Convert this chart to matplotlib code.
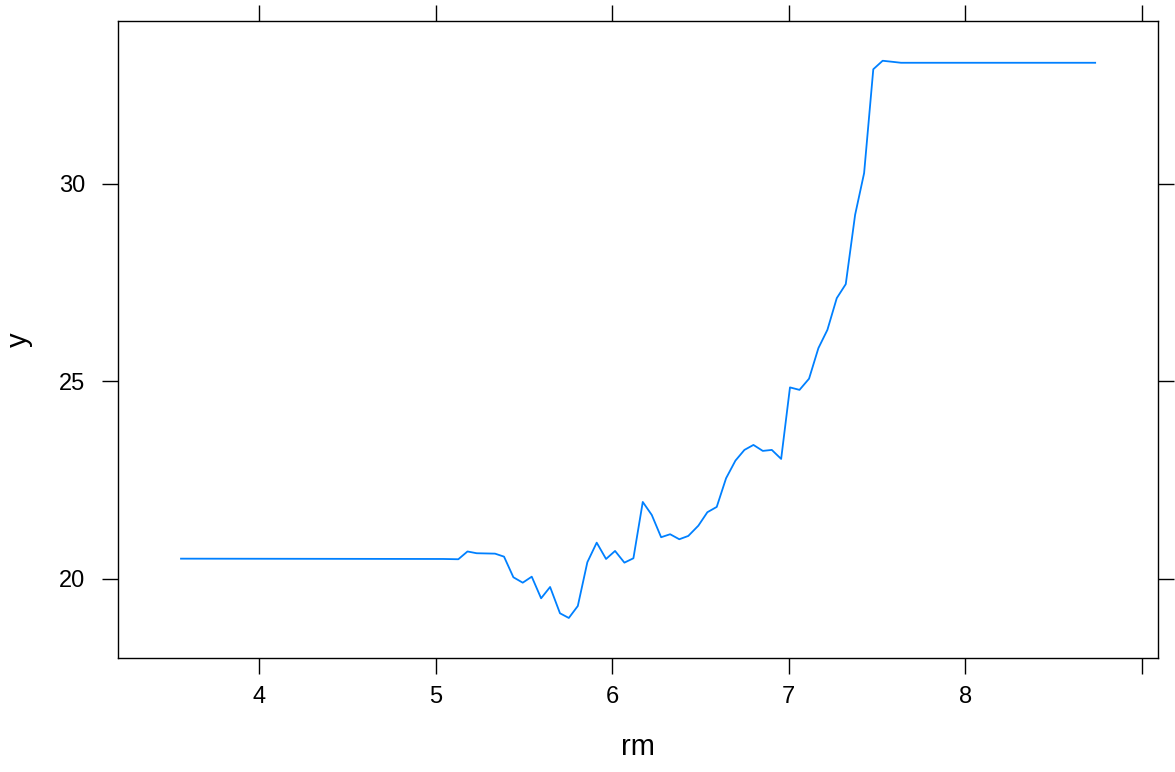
import matplotlib
matplotlib.use("Agg")
import matplotlib.pyplot as plt

rm = [3.558, 5.044, 5.129, 5.181, 5.233, 5.337, 5.388, 5.441, 5.494, 5.545,
      5.598, 5.649, 5.705, 5.755, 5.806, 5.860, 5.913, 5.966, 6.017, 6.070,
      6.121, 6.174, 6.225, 6.278, 6.329, 6.381, 6.432, 6.489, 6.540, 6.593,
      6.646, 6.699, 6.750, 6.801, 6.854, 6.905, 6.958, 7.008, 7.062, 7.116,
      7.169, 7.220, 7.273, 7.324, 7.377, 7.428, 7.480, 7.533, 7.585, 7.637,
      8.737]
yhat = [20.514, 20.506, 20.499, 20.696, 20.651, 20.641, 20.565, 20.043, 19.906, 20.058,
        19.511, 19.797, 19.132, 19.013, 19.316, 20.423, 20.919, 20.506, 20.709, 20.413,
        20.524, 21.949, 21.620, 21.056, 21.132, 21.005, 21.089, 21.349, 21.689, 21.823,
        22.549, 22.995, 23.266, 23.392, 23.241, 23.266, 23.038, 24.848, 24.785, 25.068,
        25.841, 26.304, 27.106, 27.461, 29.215, 30.271, 32.899, 33.114, 33.089, 33.063,
        33.063]

xticks = [4, 5, 6, 7, 8, 9]
xticklabels = ["4", "5", "6", "7", "8", ""]
yticks = [20, 25, 30]
yticklabels = ["20", "25", "30"]

plt.rcParams['font.family'] = ['Liberation Sans', 'DejaVu Sans']

fig = plt.figure(figsize=(11.75, 7.72), dpi=100)
ax = fig.add_axes([118/1175, 1 - 658/772, (1158-118)/1175, (658-21)/772])
ax.plot(rm, yhat, color="#0080ff", lw=1.3)

ax.set_xlim(3.201, 9.093)
ax.set_ylim(18.0, 34.12)
ax.set_xticks(xticks)
ax.set_xticklabels(xticklabels)
ax.set_yticks(yticks)
ax.set_yticklabels(yticklabels)
ax.tick_params(direction='out', length=11.5, width=1.0, top=True, right=True,
               labeltop=False, labelright=False, labelsize=17)
ax.tick_params(axis='x', pad=9)
ax.tick_params(axis='y', pad=12)
for s in ax.spines.values():
    s.set_linewidth(1.0)
ax.set_xlabel("rm", fontsize=21, labelpad=18)
ax.set_ylabel("y", fontsize=21, labelpad=19)

fig.savefig("out.png", dpi=100)
